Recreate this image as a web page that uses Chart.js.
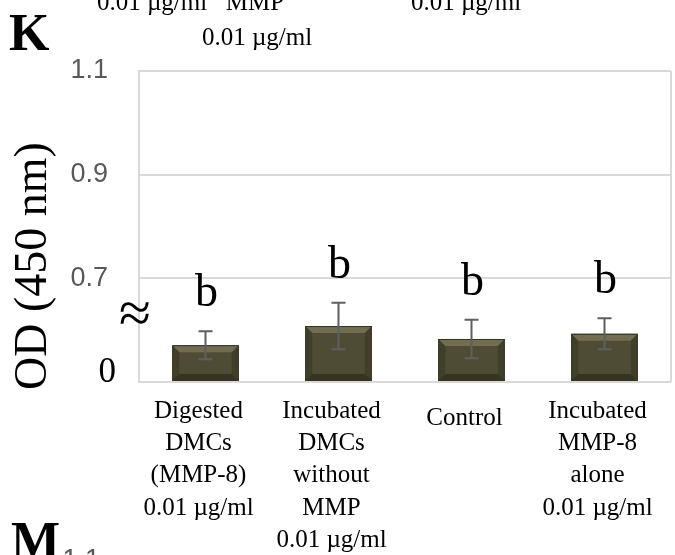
<!DOCTYPE html>
<html>
<head>
<meta charset="utf-8">
<script src="https://cdn.jsdelivr.net/npm/chart.js@4"></script>
<style>
  html, body { margin: 0; padding: 0; background: #fff; }
  canvas { display: block; }
</style>
</head>
<body>
<canvas id="odChart" width="675" height="555"></canvas>
<script>
// valores lidos do painel K (eixo quebrado: a base "0" fica no lugar de 0.5)
const categorias = [
  ["Digested", "DMCs", "(MMP-8)", "0.01 µg/ml"],
  ["Incubated", "DMCs", "without", "MMP", "0.01 µg/ml"],
  ["Control"],
  ["Incubated", "MMP-8", "alone", "0.01 µg/ml"]
];
const valores = [0.571, 0.608, 0.583, 0.593];
const erros = [0.027, 0.045, 0.037, 0.030];
const letras = ["b", "b", "b", "b"];
const ticksY = [0.5, 0.7, 0.9, 1.1];
const rotulosY = ["0", "0.7", "0.9", "1.1"];

const SERIF = "'Liberation Serif', 'Times New Roman', serif";
const SANS = "'Liberation Sans', Arial, sans-serif";

// desenha o chanfro das barras, barras de erro e letras por cima das barras
const extrasBarras = {
  id: "extrasBarras",
  afterDatasetsDraw(chart) {
    const ctx = chart.ctx;
    const y = chart.scales.y;
    const meta = chart.getDatasetMeta(0);
    meta.data.forEach((bar, i) => {
      const l = bar.x - bar.width / 2;
      const r = bar.x + bar.width / 2;
      const t = bar.y;
      const b = Math.min(bar.base, chart.chartArea.bottom);
      const bv = 7;
      ctx.save();
      // faixa de cima mais clara
      ctx.fillStyle = "rgba(140,136,105,0.55)";
      ctx.beginPath();
      ctx.moveTo(l, t); ctx.lineTo(r, t); ctx.lineTo(r - bv, t + bv); ctx.lineTo(l + bv, t + bv);
      ctx.closePath(); ctx.fill();
      // laterais um pouco mais escuras
      ctx.fillStyle = "rgba(40,38,24,0.35)";
      ctx.beginPath();
      ctx.moveTo(l, t); ctx.lineTo(l + bv, t + bv); ctx.lineTo(l + bv, b - bv); ctx.lineTo(l, b);
      ctx.closePath(); ctx.fill();
      ctx.beginPath();
      ctx.moveTo(r, t); ctx.lineTo(r - bv, t + bv); ctx.lineTo(r - bv, b - bv); ctx.lineTo(r, b);
      ctx.closePath(); ctx.fill();
      // faixa de baixo escura
      ctx.fillStyle = "rgba(30,28,16,0.5)";
      ctx.beginPath();
      ctx.moveTo(l, b); ctx.lineTo(r, b); ctx.lineTo(r - bv, b - bv); ctx.lineTo(l + bv, b - bv);
      ctx.closePath(); ctx.fill();
      ctx.strokeStyle = "#35331f";
      ctx.lineWidth = 1;
      ctx.strokeRect(l + 0.5, t + 0.5, bar.width - 1, b - t - 1);

      // barra de erro com as duas tampas
      const yTop = y.getPixelForValue(valores[i] + erros[i]);
      const yBot = y.getPixelForValue(valores[i] - erros[i]);
      ctx.strokeStyle = "#5f5f5f";
      ctx.lineWidth = 2;
      ctx.beginPath();
      ctx.moveTo(bar.x, yTop); ctx.lineTo(bar.x, yBot);
      ctx.moveTo(bar.x - 7, yTop); ctx.lineTo(bar.x + 7, yTop);
      ctx.moveTo(bar.x - 7, yBot); ctx.lineTo(bar.x + 7, yBot);
      ctx.stroke();

      // letra de significância
      ctx.fillStyle = "#000";
      ctx.font = "46px " + SERIF;
      ctx.textAlign = "center";
      ctx.textBaseline = "alphabetic";
      ctx.fillText(letras[i], bar.x + 1, yTop - 25);
      ctx.restore();
    });
  }
};

// textos em volta: rótulos do eixo x, título do eixo y, moldura, etc.
const textosPainel = {
  id: "textosPainel",
  afterDraw(chart) {
    const ctx = chart.ctx;
    const area = chart.chartArea;
    const x = chart.scales.x;
    const y = chart.scales.y;
    ctx.save();

    // borda direita da área do gráfico
    ctx.strokeStyle = "#d9d9d9";
    ctx.lineWidth = 2;
    ctx.beginPath();
    ctx.moveTo(area.right, area.top);
    ctx.lineTo(area.right, area.bottom);
    ctx.stroke();

    // rótulos das categorias
    ctx.fillStyle = "#000";
    ctx.font = "25px " + SERIF;
    ctx.textAlign = "center";
    ctx.textBaseline = "alphabetic";
    categorias.forEach((linhas, i) => {
      const cx = x.getPixelForValue(i) - 7;
      const dy = linhas.length === 1 ? 7 : 0;
      linhas.forEach((txt, k) => {
        ctx.fillText(txt, cx, 418 + dy + k * 32.2);
      });
    });

    // "0" da base do eixo quebrado
    ctx.font = "35px " + SERIF;
    ctx.textAlign = "right";
    ctx.textBaseline = "alphabetic";
    ctx.fillText(rotulosY[0], 116, y.getPixelForValue(ticksY[0]));

    // símbolo de quebra do eixo
    ctx.font = "58px " + SERIF;
    ctx.textAlign = "center";
    ctx.textBaseline = "middle";
    ctx.fillText("≈", 135, 317);

    // título do eixo y
    ctx.save();
    ctx.translate(34, 266);
    ctx.rotate(-Math.PI / 2);
    ctx.font = "46px " + SERIF;
    ctx.textAlign = "center";
    ctx.textBaseline = "middle";
    ctx.fillText("OD (450 nm)", 0, 0);
    ctx.restore();

    // letras dos painéis
    ctx.font = "bold 52px " + SERIF;
    ctx.textAlign = "left";
    ctx.textBaseline = "alphabetic";
    ctx.fillText("K", 9, 50);
    ctx.fillText("M", 11, 558);

    // restos do painel de cima, cortados na borda
    ctx.font = "25px " + SERIF;
    ctx.textAlign = "center";
    ctx.fillText("0.01 µg/ml", 152, 10);
    ctx.fillText("MMP", 255, 10);
    ctx.fillText("0.01 µg/ml", 257, 45);
    ctx.fillText("0.01 µg/ml", 466, 10);

    // começo do eixo do painel de baixo
    ctx.fillStyle = "#595959";
    ctx.font = "27px " + SANS;
    ctx.textAlign = "right";
    ctx.fillText("1.1", 100, 568);
    ctx.restore();
  }
};

const ctx = document.getElementById("odChart");
const chart = new Chart(ctx, {
  type: "bar",
  data: {
    labels: categorias.map(c => c.join(" ")),
    datasets: [
      {
        data: valores,
        base: ticksY[0],
        backgroundColor: "#4f4c35",
        borderWidth: 0,
        barPercentage: 0.5,
        categoryPercentage: 1.0,
      },
    ],
  },
  options: {
    responsive: false,
    animation: false,
    layout: { padding: { top: 71, right: 4, bottom: 173, left: 0 } },
    plugins: { legend: { display: false }, tooltip: { enabled: false } },
    scales: {
      x: { display: false },
      y: {
        min: 0.5,
        max: 1.1,
        afterFit(scale) { scale.width = 139; },
        afterBuildTicks(scale) { scale.ticks = ticksY.map(v => ({ value: v })); },
        grid: { color: "#d9d9d9", lineWidth: 2, drawTicks: false },
        border: { color: "#d9d9d9", width: 2 },
        ticks: {
          padding: 31,
          color: "#595959",
          font: { family: SANS, size: 27 },
          callback: (v) => {
            const i = ticksY.indexOf(Math.round(v * 10) / 10);
            return i > 0 ? rotulosY[i] : "";
          },
        },
      },
    },
  },
  plugins: [extrasBarras, textosPainel],
});
</script>
</body>
</html>
